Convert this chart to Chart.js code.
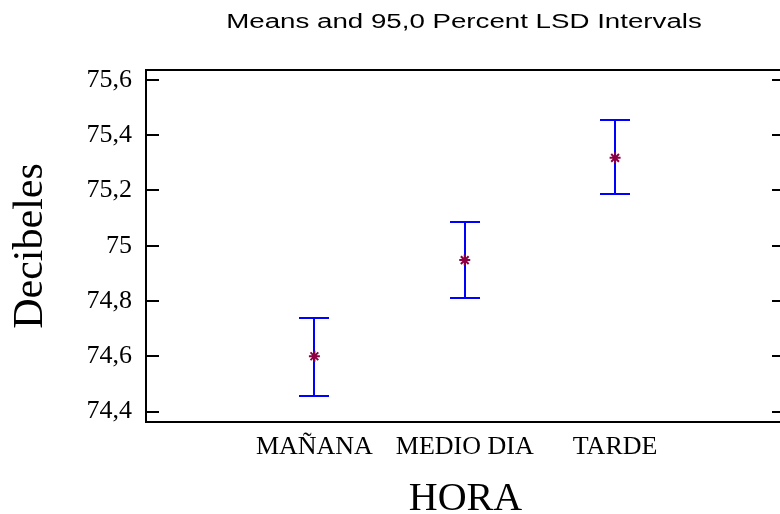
<!DOCTYPE html>
<html><head><meta charset="utf-8">
<script src="https://cdn.jsdelivr.net/npm/chart.js@4/dist/chart.umd.min.js"></script>
<style>
html,body{margin:0;padding:0;overflow:hidden;background:#fff;width:780px;height:514px}
#wrap{width:800px;height:514px;position:relative}
</style></head>
<body><div id="wrap"><canvas id="c" width="800" height="514"></canvas></div>
<script>
const chartTitle = 'Means and 95,0 Percent LSD Intervals';
const xAxisTitle = 'HORA';
const yAxisTitle = 'Decibeles';
const categories = ['MAÑANA', 'MEDIO DIA', 'TARDE'];
const means = [74.600, 74.948, 75.318];
const lowerLimits = [74.455, 74.811, 75.187];
const upperLimits = [74.738, 75.086, 75.455];
const yTicks = [74.4, 74.6, 74.8, 75.0, 75.2, 75.4, 75.6];

const fmt = v => String(Number(v.toFixed(1))).replace('.', ',');

const framePlugin = {
  id: 'frame',
  beforeDatasetsDraw(chart) {
    const {ctx, chartArea: a, scales} = chart;
    const ys = scales.y, xs = scales.x;
    ctx.save();
    ctx.strokeStyle = '#000';
    ctx.lineWidth = 2;
    ctx.strokeRect(a.left, a.top, a.right - a.left, a.bottom - a.top);
    ys.ticks.forEach(t => {
      const y = Math.round(ys.getPixelForValue(t.value));
      ctx.beginPath();
      ctx.moveTo(a.left, y); ctx.lineTo(a.left + 13, y);
      ctx.moveTo(a.right - 13, y); ctx.lineTo(a.right, y);
      ctx.stroke();
    });
    ctx.strokeStyle = '#0000FF';
    ctx.lineWidth = 2;
    means.forEach((m, i) => {
      const x = Math.round(xs.getPixelForValue(i));
      const yl = Math.round(ys.getPixelForValue(lowerLimits[i]));
      const yu = Math.round(ys.getPixelForValue(upperLimits[i]));
      ctx.beginPath();
      ctx.moveTo(x, yl); ctx.lineTo(x, yu);
      ctx.moveTo(x - 15, yl); ctx.lineTo(x + 15, yl);
      ctx.moveTo(x - 15, yu); ctx.lineTo(x + 15, yu);
      ctx.stroke();
    });
    ctx.restore();
  },
  afterDraw(chart) {
    const {ctx} = chart;
    ctx.save();
    ctx.font = '19.5px "Liberation Sans"';
    ctx.fillStyle = '#000';
    ctx.textAlign = 'center';
    ctx.textBaseline = 'alphabetic';
    ctx.translate(464, 28);
    ctx.scale(1.42, 1);
    ctx.fillText(chartTitle, 0, 0);
    ctx.restore();
  }
};

new Chart(document.getElementById('c'), {
  type: 'scatter',
  data: {
    datasets: [{
      data: means.map((m, i) => ({x: i, y: m})),
      pointStyle: 'star',
      pointRadius: 5.5,
      pointHoverRadius: 5.5,
      borderColor: '#8B0045',
      backgroundColor: '#8B0045',
      borderWidth: 2
    }]
  },
  options: {
    responsive: false,
    animation: false,
    events: [],
    layout: {padding: {top: 70, right: 15, left: 0, bottom: 0}},
    plugins: {legend: {display: false}, tooltip: {enabled: false}, title: {display: false}},
    scales: {
      x: {
        type: 'linear',
        min: -1.12,
        max: 3.13,
        afterBuildTicks: s => { s.ticks = categories.map((c, i) => ({value: i})); },
        afterFit: s => { s.height = 92; },
        grid: {display: false, drawTicks: false},
        border: {display: false},
        ticks: {
          callback: v => categories[v],
          color: '#000',
          padding: 10,
          maxRotation: 0,
          autoSkip: false,
          font: {family: '"Liberation Serif"', size: 26}
        },
        title: {
          display: true,
          text: xAxisTitle,
          color: '#000',
          font: {family: '"Liberation Serif"', size: 40, lineHeight: 1},
          padding: {top: 0, bottom: -5}
        }
      },
      y: {
        type: 'linear',
        min: 74.362,
        max: 75.636,
        afterBuildTicks: s => { s.ticks = yTicks.map(v => ({value: v})); },
        afterFit: s => { s.width = 146; },
        grid: {display: false, drawTicks: false},
        border: {display: false},
        ticks: {
          callback: v => fmt(v),
          color: '#000',
          padding: 14,
          font: {family: '"Liberation Serif"', size: 26}
        },
        title: {
          display: true,
          text: yAxisTitle,
          color: '#000',
          font: {family: '"Liberation Serif"', size: 42, lineHeight: 1},
          padding: {top: 10, bottom: 0}
        }
      }
    }
  },
  plugins: [framePlugin]
});
</script>
</body></html>
